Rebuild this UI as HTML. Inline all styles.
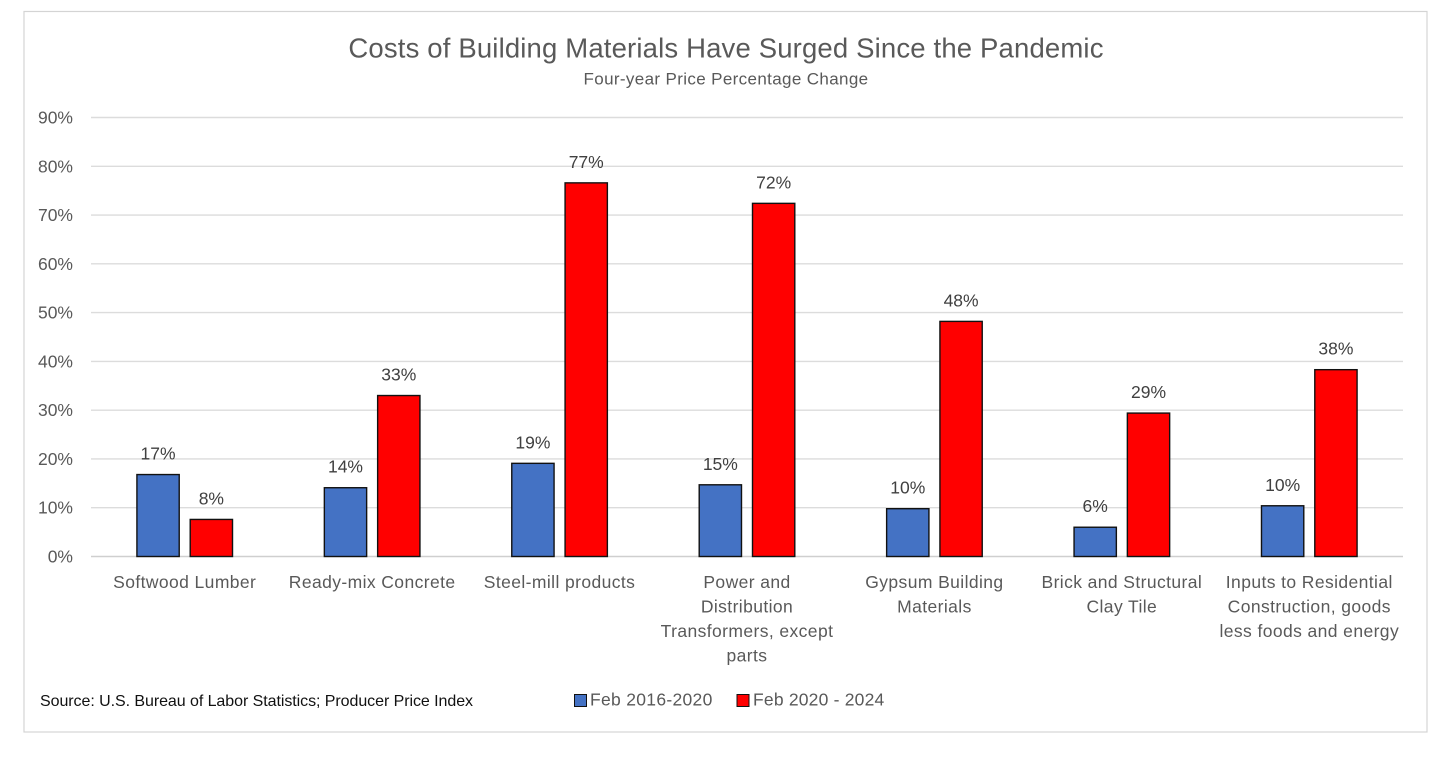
<!DOCTYPE html>
<html>
<head>
<meta charset="utf-8">
<style>
html,body{margin:0;padding:0;background:#fff;}
body{width:1454px;height:760px;overflow:hidden;font-family:"Liberation Sans",sans-serif;}
svg text{font-family:"Liberation Sans",sans-serif;}
</style>
</head>
<body>
<svg id="chart" width="1454" height="760" viewBox="0 0 1454 760" xmlns="http://www.w3.org/2000/svg">
<rect x="24" y="11.5" width="1403" height="720.5" fill="#fff" stroke="#d4d4d4" stroke-width="1.2"/>
<text x="726" y="57.5" text-anchor="middle" font-size="27.5" letter-spacing="0.16" fill="#595959">Costs of Building Materials Have Surged Since the Pandemic</text>
<text x="726" y="84.5" text-anchor="middle" font-size="17" letter-spacing="0.36" fill="#595959">Four-year Price Percentage Change</text>
<g id="grid"></g>
<g id="bars"></g>
<g id="labels"></g>
<text x="40" y="706" font-size="16" letter-spacing="-0.06" fill="#111">Source: U.S. Bureau of Labor Statistics; Producer Price Index</text>
<rect x="574.5" y="694.5" width="12" height="12" fill="#4472c4" stroke="#111" stroke-width="1"/>
<text x="590" y="705.5" font-size="17.5" letter-spacing="0.3" fill="#595959">Feb 2016-2020</text>
<rect x="737" y="694.5" width="12" height="12" fill="#ff0000" stroke="#111" stroke-width="1"/>
<text x="753" y="705.5" font-size="17.5" letter-spacing="0.2" fill="#595959">Feb 2020 - 2024</text>
</svg>
<script>
const categories = [
  ["Softwood Lumber"],
  ["Ready-mix Concrete"],
  ["Steel-mill products"],
  ["Power and","Distribution","Transformers, except","parts"],
  ["Gypsum Building","Materials"],
  ["Brick and Structural","Clay Tile"],
  ["Inputs to Residential","Construction, goods","less foods and energy"]
];
const series2016to2020 = [16.8, 14.1, 19.1, 14.7, 9.8, 6.0, 10.4];
const series2020to2024 = [7.6, 33.0, 76.6, 72.4, 48.2, 29.4, 38.3];
const printed2016to2020 = ["17%","14%","19%","15%","10%","6%","10%"];
const printed2020to2024 = ["8%","33%","77%","72%","48%","29%","38%"];
const yTicks = [0,10,20,30,40,50,60,70,80,90];

const NS = "http://www.w3.org/2000/svg";
const plotLeft = 91, plotRight = 1403, plotBottom = 556.5, plotTop = 117.5, yMax = 90;
const barWidth = 42.3, barGap = 11;
const y = v => plotBottom - (v / yMax) * (plotBottom - plotTop);
const band = (plotRight - plotLeft) / categories.length;
const xCenter = i => plotLeft + band * (i + 0.5);
function make(tag, attrs, parent, text) {
  const el = document.createElementNS(NS, tag);
  for (const k in attrs) el.setAttribute(k, attrs[k]);
  if (text !== undefined) el.textContent = text;
  parent.appendChild(el);
  return el;
}
const grid = document.getElementById("grid");
const bars = document.getElementById("bars");
const labels = document.getElementById("labels");
yTicks.forEach(t => {
  const line = make("line", {x1: plotLeft, x2: plotRight, y1: y(t), y2: y(t), stroke: t === 0 ? "#cfcfcf" : "#dcdcdc", "stroke-width": 1.4}, grid);
  
  
  const tick = make("text", {x: 73, y: y(t) + 6, "text-anchor": "end", "font-size": 17.5, fill: "#595959"}, labels, t + "%");
  
  
});
categories.forEach((lines, i) => {
  const cx = xCenter(i);
  const x1 = cx - barGap / 2 - barWidth;
  const x2 = cx + barGap / 2;
  const v1 = series2016to2020[i], v2 = series2020to2024[i];
  const b1 = make("rect", {x: x1, y: y(v1), width: barWidth, height: y(0) - y(v1), fill: "#4472c4", stroke: "#111", "stroke-width": 1.4}, bars);
  
  
  const b2 = make("rect", {x: x2, y: y(v2), width: barWidth, height: y(0) - y(v2), fill: "#ff0000", stroke: "#111", "stroke-width": 1.4}, bars);
  
  
  const l1 = make("text", {x: x1 + barWidth / 2, y: y(v1) - 15, "text-anchor": "middle", "font-size": 17.5, fill: "#404040"}, labels, printed2016to2020[i]);
  
  
  const l2 = make("text", {x: x2 + barWidth / 2, y: y(v2) - 15, "text-anchor": "middle", "font-size": 17.5, fill: "#404040"}, labels, printed2020to2024[i]);
  
  
  lines.forEach((s, j) => {
    const c = make("text", {x: cx, y: 588 + j * 24.5, "text-anchor": "middle", "font-size": 17.5, "letter-spacing": 0.4, fill: "#595959"}, labels, s);
    
    
  });
});
</script>
</body>
</html>
